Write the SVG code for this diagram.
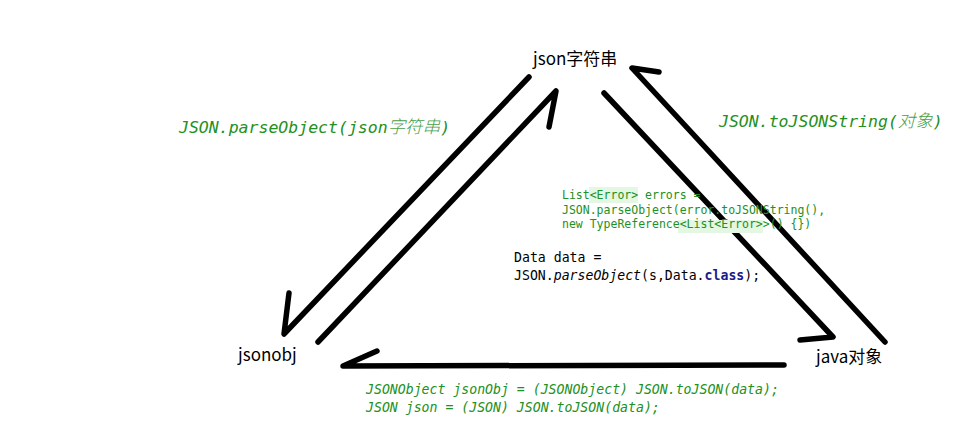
<svg xmlns="http://www.w3.org/2000/svg" width="957" height="435" viewBox="0 0 957 435">
<style>
.node{font-family:"Noto Sans CJK SC","Noto Sans",sans-serif;font-size:17px;fill:#000}
.lbl{font-family:"DejaVu Sans Mono","Noto Sans CJK SC",monospace;font-size:16.5px;font-style:italic;fill:#229022}
.cjk{font-family:"Noto Sans CJK SC",sans-serif;font-size:17.5px;fill:#4a9e4a;font-weight:300}
.code{font-family:"DejaVu Sans Mono",monospace;font-size:11.5px;fill:#229022}
.code2{font-family:"DejaVu Sans Mono",monospace;font-size:13.2px;fill:#000}
.code3{font-family:"DejaVu Sans Mono",monospace;font-size:13.2px;font-style:italic;fill:#229022}
.hl{fill:#e3f7e3}
.ln{fill:none;stroke:#000;stroke-width:5.5;stroke-linecap:round;stroke-linejoin:round}
</style>
<rect width="957" height="435" fill="#fff"/>
<g id="connectors">
<polyline class="ln" points="529,77 284,334 289,293"/>
<polyline class="ln" points="318,342 556,91 549,127"/>
<polyline class="ln" points="604,93 833,337 800,340"/>
<polyline class="ln" points="885,342 632,68 659,72"/>
<polyline class="ln" points="784,365 343,366 377,351"/>
</g>
<g id="node-json-string"><text class="node" x="533" y="65">json字符串</text></g>
<g id="node-jsonobj"><text class="node" x="238" y="361">jsonobj</text></g>
<g id="node-java-object"><text class="node" x="816" y="363">java对象</text></g>
<g id="label-parse"><text class="lbl" x="179" y="133">JSON.parseObject(json<tspan class="cjk">字符串</tspan>)</text></g>
<g id="label-tojsonstring"><text class="lbl" x="719" y="127">JSON.toJSONString(<tspan class="cjk">对象</tspan>)</text></g>
<g id="code-list">
<rect class="hl" x="589" y="187" width="49" height="16"/>
<rect class="hl" x="678" y="220" width="85" height="13"/>
<text class="code" x="562" y="199">List&lt;Error&gt; errors =</text>
<text class="code" x="562" y="214">JSON.parseObject(error.toJSONString(),</text>
<text class="code" x="562" y="228">new TypeReference&lt;List&lt;Error&gt;&gt;() {})</text>
</g>
<g id="code-data">
<text class="code2" x="514" y="262">Data data =</text>
<text class="code2" x="514" y="280">JSON.<tspan font-style="italic">parseObject</tspan>(s,Data.<tspan font-weight="bold" fill="#1a1a8c">class</tspan>);</text>
</g>
<g id="code-tojson">
<text class="code3" x="366" y="394">JSONObject jsonObj = (JSONObject) JSON.toJSON(data);</text>
<text class="code3" x="366" y="412">JSON json = (JSON) JSON.toJSON(data);</text>
</g>
</svg>
